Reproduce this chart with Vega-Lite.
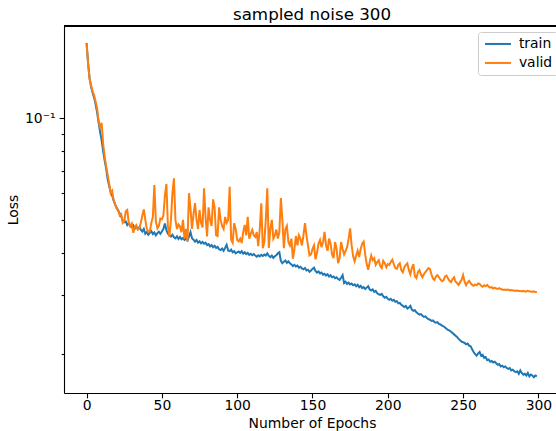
{
  "$schema": "https://vega.github.io/schema/vega-lite/v6.json",
  "autosize": {"type": "none"},
  "padding": {"left": 64, "top": 26, "right": 0, "bottom": 38},
  "width": 492,
  "height": 367,
  "background": "white",
  "config": {
    "font": "DejaVu Sans",
    "view": {"stroke": null},
    "axis": {"grid": false, "domainColor": "#000", "domainWidth": 1.1, "tickColor": "#000", "tickWidth": 1.1, "labelColor": "#000", "titleColor": "#000", "labelFont": "DejaVu Sans", "titleFont": "DejaVu Sans", "labelFontSize": 13.9, "titleFontSize": 13.9, "titleFontWeight": "normal"}
  },
  "title": {"text": "sampled noise 300", "font": "DejaVu Sans", "fontSize": 16.7, "fontWeight": "normal", "color": "#000", "anchor": "middle", "frame": "group", "dx": 2, "dy": 18, "baseline": "alphabetic", "offset": 7},
  "data": {"values": [
{"e":0,"train":0.167,"valid":0.166},{"e":1,"train":0.146,"valid":0.145},{"e":2,"train":0.131,"valid":0.131},{"e":3,"train":0.124,"valid":0.125},{"e":4,"train":0.119,"valid":0.120},{"e":5,"train":0.115,"valid":0.117},{"e":6,"train":0.110,"valid":0.112},{"e":7,"train":0.104,"valid":0.107},{"e":8,"train":0.097,"valid":0.098},{"e":9,"train":0.091,"valid":0.094},
{"e":10,"train":0.086,"valid":0.097},{"e":11,"train":0.080,"valid":0.084},{"e":12,"train":0.075,"valid":0.077},{"e":13,"train":0.071,"valid":0.072},{"e":14,"train":0.066,"valid":0.068},{"e":15,"train":0.063,"valid":0.064},{"e":16,"train":0.0605,"valid":0.060},{"e":17,"train":0.059,"valid":0.061},{"e":18,"train":0.057,"valid":0.057},{"e":19,"train":0.0555,"valid":0.0555},
{"e":20,"train":0.0543,"valid":0.054},{"e":21,"train":0.0532,"valid":0.0535},{"e":22,"train":0.0522,"valid":0.0515},{"e":23,"train":0.0512,"valid":0.052},{"e":24,"train":0.0498,"valid":0.049},{"e":25,"train":0.0492,"valid":0.0495},{"e":26,"train":0.0495,"valid":0.053},{"e":27,"train":0.0483,"valid":0.0535},{"e":28,"train":0.0489,"valid":0.049},{"e":29,"train":0.0479,"valid":0.048},
{"e":30,"train":0.0476,"valid":0.0488},{"e":31,"train":0.0482,"valid":0.0458},{"e":32,"train":0.0471,"valid":0.0475},{"e":33,"train":0.0478,"valid":0.0482},{"e":34,"train":0.0470,"valid":0.0468},{"e":35,"train":0.0476,"valid":0.0472},{"e":36,"train":0.0468,"valid":0.049},{"e":37,"train":0.0462,"valid":0.0515},{"e":38,"train":0.0470,"valid":0.0537},{"e":39,"train":0.0455,"valid":0.050},
{"e":40,"train":0.0460,"valid":0.047},{"e":41,"train":0.0452,"valid":0.0461},{"e":42,"train":0.0458,"valid":0.0462},{"e":43,"train":0.0463,"valid":0.049},{"e":44,"train":0.0454,"valid":0.051},{"e":45,"train":0.0459,"valid":0.0634},{"e":46,"train":0.0450,"valid":0.0495},{"e":47,"train":0.0457,"valid":0.0472},{"e":48,"train":0.0461,"valid":0.048},{"e":49,"train":0.0455,"valid":0.0505},
{"e":50,"train":0.0462,"valid":0.0502},{"e":51,"train":0.0470,"valid":0.0515},{"e":52,"train":0.0488,"valid":0.059},{"e":53,"train":0.0466,"valid":0.0639},{"e":54,"train":0.0455,"valid":0.048},{"e":55,"train":0.0450,"valid":0.0445},{"e":56,"train":0.0446,"valid":0.050},{"e":57,"train":0.0452,"valid":0.060},{"e":58,"train":0.0444,"valid":0.0664},{"e":59,"train":0.0441,"valid":0.050},
{"e":60,"train":0.0447,"valid":0.047},{"e":61,"train":0.0439,"valid":0.0485},{"e":62,"train":0.0445,"valid":0.0478},{"e":63,"train":0.0438,"valid":0.046},{"e":64,"train":0.0442,"valid":0.050},{"e":65,"train":0.0436,"valid":0.044},{"e":66,"train":0.0441,"valid":0.047},{"e":67,"train":0.0435,"valid":0.043},{"e":68,"train":0.0446,"valid":0.060},{"e":69,"train":0.0460,"valid":0.054},
{"e":70,"train":0.0441,"valid":0.047},{"e":71,"train":0.0437,"valid":0.052},{"e":72,"train":0.0431,"valid":0.0561},{"e":73,"train":0.0436,"valid":0.050},{"e":74,"train":0.0428,"valid":0.047},{"e":75,"train":0.0432,"valid":0.0535},{"e":76,"train":0.0426,"valid":0.049},{"e":77,"train":0.0430,"valid":0.0475},{"e":78,"train":0.0425,"valid":0.062},{"e":79,"train":0.0428,"valid":0.051},
{"e":80,"train":0.0421,"valid":0.0447},{"e":81,"train":0.0424,"valid":0.0545},{"e":82,"train":0.0417,"valid":0.050},{"e":83,"train":0.0421,"valid":0.048},{"e":84,"train":0.0415,"valid":0.0575},{"e":85,"train":0.0419,"valid":0.0545},{"e":86,"train":0.0413,"valid":0.045},{"e":87,"train":0.0416,"valid":0.0448},{"e":88,"train":0.0409,"valid":0.0545},{"e":89,"train":0.0407,"valid":0.050},
{"e":90,"train":0.0411,"valid":0.048},{"e":91,"train":0.0405,"valid":0.047},{"e":92,"train":0.0413,"valid":0.051},{"e":93,"train":0.0422,"valid":0.049},{"e":94,"train":0.0406,"valid":0.050},{"e":95,"train":0.0404,"valid":0.0627},{"e":96,"train":0.0408,"valid":0.0437},{"e":97,"train":0.0401,"valid":0.0428},{"e":98,"train":0.0404,"valid":0.0489},{"e":99,"train":0.0398,"valid":0.047},
{"e":100,"train":0.0401,"valid":0.0436},{"e":101,"train":0.0403,"valid":0.0432},{"e":102,"train":0.0399,"valid":0.044},{"e":103,"train":0.0404,"valid":0.0427},{"e":104,"train":0.0397,"valid":0.046},{"e":105,"train":0.0401,"valid":0.0483},{"e":106,"train":0.0396,"valid":0.045},{"e":107,"train":0.0399,"valid":0.0511},{"e":108,"train":0.0394,"valid":0.044},{"e":109,"train":0.0397,"valid":0.0455},
{"e":110,"train":0.0393,"valid":0.0467},{"e":111,"train":0.0396,"valid":0.045},{"e":112,"train":0.0392,"valid":0.0445},{"e":113,"train":0.0389,"valid":0.046},{"e":114,"train":0.0393,"valid":0.0418},{"e":115,"train":0.0390,"valid":0.047},{"e":116,"train":0.0394,"valid":0.056},{"e":117,"train":0.0391,"valid":0.0412},{"e":118,"train":0.0395,"valid":0.043},{"e":119,"train":0.0392,"valid":0.050},
{"e":120,"train":0.0398,"valid":0.062},{"e":121,"train":0.0391,"valid":0.0413},{"e":122,"train":0.0388,"valid":0.047},{"e":123,"train":0.0392,"valid":0.050},{"e":124,"train":0.0386,"valid":0.044},{"e":125,"train":0.0390,"valid":0.045},{"e":126,"train":0.0393,"valid":0.0468},{"e":127,"train":0.0398,"valid":0.044},{"e":128,"train":0.0401,"valid":0.046},{"e":129,"train":0.0378,"valid":0.058},
{"e":130,"train":0.0372,"valid":0.050},{"e":131,"train":0.0376,"valid":0.0412},{"e":132,"train":0.0379,"valid":0.047},{"e":133,"train":0.0373,"valid":0.048},{"e":134,"train":0.0377,"valid":0.043},{"e":135,"train":0.0372,"valid":0.042},{"e":136,"train":0.0369,"valid":0.044},{"e":137,"train":0.0365,"valid":0.0384},{"e":138,"train":0.0368,"valid":0.041},{"e":139,"train":0.0364,"valid":0.0448},
{"e":140,"train":0.0366,"valid":0.042},{"e":141,"train":0.0361,"valid":0.045},{"e":142,"train":0.0363,"valid":0.044},{"e":143,"train":0.0359,"valid":0.042},{"e":144,"train":0.0357,"valid":0.045},{"e":145,"train":0.0360,"valid":0.0489},{"e":146,"train":0.0354,"valid":0.045},{"e":147,"train":0.0356,"valid":0.042},{"e":148,"train":0.0351,"valid":0.0392},{"e":149,"train":0.0354,"valid":0.0395},
{"e":150,"train":0.0358,"valid":0.041},{"e":151,"train":0.0361,"valid":0.042},{"e":152,"train":0.0353,"valid":0.0382},{"e":153,"train":0.0349,"valid":0.040},{"e":154,"train":0.0352,"valid":0.0425},{"e":155,"train":0.0347,"valid":0.0436},{"e":156,"train":0.0349,"valid":0.0415},{"e":157,"train":0.0344,"valid":0.043},{"e":158,"train":0.0346,"valid":0.0461},{"e":159,"train":0.0342,"valid":0.042},
{"e":160,"train":0.0345,"valid":0.0405},{"e":161,"train":0.0340,"valid":0.044},{"e":162,"train":0.0343,"valid":0.0425},{"e":163,"train":0.0338,"valid":0.0395},{"e":164,"train":0.0340,"valid":0.0385},{"e":165,"train":0.0336,"valid":0.043},{"e":166,"train":0.0338,"valid":0.041},{"e":167,"train":0.0334,"valid":0.0372},{"e":168,"train":0.0332,"valid":0.0385},{"e":169,"train":0.0337,"valid":0.043},
{"e":170,"train":0.0343,"valid":0.041},{"e":171,"train":0.0325,"valid":0.0395},{"e":172,"train":0.0328,"valid":0.0405},{"e":173,"train":0.0323,"valid":0.0415},{"e":174,"train":0.0326,"valid":0.044},{"e":175,"train":0.0322,"valid":0.0472},{"e":176,"train":0.0324,"valid":0.042},{"e":177,"train":0.0320,"valid":0.039},{"e":178,"train":0.0322,"valid":0.0377},{"e":179,"train":0.0318,"valid":0.0392},
{"e":180,"train":0.0321,"valid":0.0405},{"e":181,"train":0.0316,"valid":0.0388},{"e":182,"train":0.0319,"valid":0.041},{"e":183,"train":0.0314,"valid":0.0425},{"e":184,"train":0.0316,"valid":0.0431},{"e":185,"train":0.0312,"valid":0.0395},{"e":186,"train":0.0315,"valid":0.037},{"e":187,"train":0.0318,"valid":0.0356},{"e":188,"train":0.0311,"valid":0.0375},{"e":189,"train":0.0309,"valid":0.0392},
{"e":190,"train":0.0311,"valid":0.038},{"e":191,"train":0.0306,"valid":0.0385},{"e":192,"train":0.0308,"valid":0.0368},{"e":193,"train":0.0303,"valid":0.0375},{"e":194,"train":0.0301,"valid":0.038},{"e":195,"train":0.0300,"valid":0.0365},{"e":196,"train":0.0302,"valid":0.036},{"e":197,"train":0.0297,"valid":0.0378},{"e":198,"train":0.0294,"valid":0.0372},{"e":199,"train":0.0296,"valid":0.0362},
{"e":200,"train":0.0292,"valid":0.037},{"e":201,"train":0.0290,"valid":0.0368},{"e":202,"train":0.0292,"valid":0.0375},{"e":203,"train":0.0288,"valid":0.0381},{"e":204,"train":0.0290,"valid":0.037},{"e":205,"train":0.0286,"valid":0.036},{"e":206,"train":0.0287,"valid":0.0358},{"e":207,"train":0.0283,"valid":0.0368},{"e":208,"train":0.0284,"valid":0.0372},{"e":209,"train":0.0280,"valid":0.0355},
{"e":210,"train":0.0278,"valid":0.035},{"e":211,"train":0.0276,"valid":0.0362},{"e":212,"train":0.0278,"valid":0.0368},{"e":213,"train":0.0273,"valid":0.0372},{"e":214,"train":0.0275,"valid":0.0355},{"e":215,"train":0.0278,"valid":0.0345},{"e":216,"train":0.0271,"valid":0.036},{"e":217,"train":0.0269,"valid":0.037},{"e":218,"train":0.0270,"valid":0.034},{"e":219,"train":0.0266,"valid":0.0336},
{"e":220,"train":0.0264,"valid":0.035},{"e":221,"train":0.0262,"valid":0.0355},{"e":222,"train":0.0263,"valid":0.0345},{"e":223,"train":0.0260,"valid":0.0338},{"e":224,"train":0.0258,"valid":0.0345},{"e":225,"train":0.0259,"valid":0.035},{"e":226,"train":0.0256,"valid":0.0355},{"e":227,"train":0.0254,"valid":0.036},{"e":228,"train":0.0253,"valid":0.0358},{"e":229,"train":0.0251,"valid":0.0345},
{"e":230,"train":0.0252,"valid":0.0335},{"e":231,"train":0.0249,"valid":0.0332},{"e":232,"train":0.0248,"valid":0.034},{"e":233,"train":0.0249,"valid":0.0343},{"e":234,"train":0.0246,"valid":0.0338},{"e":235,"train":0.0245,"valid":0.0333},{"e":236,"train":0.0243,"valid":0.0329},{"e":237,"train":0.0242,"valid":0.0331},{"e":238,"train":0.0240,"valid":0.034},{"e":239,"train":0.0238,"valid":0.0342},
{"e":240,"train":0.0236,"valid":0.0335},{"e":241,"train":0.0235,"valid":0.033},{"e":242,"train":0.0233,"valid":0.0327},{"e":243,"train":0.0231,"valid":0.0334},{"e":244,"train":0.0229,"valid":0.0338},{"e":245,"train":0.0227,"valid":0.0328},{"e":246,"train":0.0225,"valid":0.0325},{"e":247,"train":0.0222,"valid":0.0321},{"e":248,"train":0.0220,"valid":0.0327},{"e":249,"train":0.0218,"valid":0.0332},
{"e":250,"train":0.0217,"valid":0.0343},{"e":251,"train":0.0216,"valid":0.0328},{"e":252,"train":0.0214,"valid":0.032},{"e":253,"train":0.0215,"valid":0.0326},{"e":254,"train":0.0212,"valid":0.033},{"e":255,"train":0.0211,"valid":0.0325},{"e":256,"train":0.0207,"valid":0.0321},{"e":257,"train":0.0203,"valid":0.0319},{"e":258,"train":0.0200,"valid":0.0322},{"e":259,"train":0.0198,"valid":0.032},
{"e":260,"train":0.0201,"valid":0.0324},{"e":261,"train":0.0203,"valid":0.0323},{"e":262,"train":0.0198,"valid":0.0319},{"e":263,"train":0.0199,"valid":0.0317},{"e":264,"train":0.0195,"valid":0.032},{"e":265,"train":0.0196,"valid":0.0318},{"e":266,"train":0.0192,"valid":0.0321},{"e":267,"train":0.0193,"valid":0.0317},{"e":268,"train":0.0190,"valid":0.0315},{"e":269,"train":0.0191,"valid":0.0316},
{"e":270,"train":0.0189,"valid":0.0313},{"e":271,"train":0.0190,"valid":0.0315},{"e":272,"train":0.0188,"valid":0.0313},{"e":273,"train":0.0186,"valid":0.0312},{"e":274,"train":0.0187,"valid":0.0314},{"e":275,"train":0.0184,"valid":0.0312},{"e":276,"train":0.0185,"valid":0.0311},{"e":277,"train":0.0183,"valid":0.031},{"e":278,"train":0.0184,"valid":0.0311},{"e":279,"train":0.0182,"valid":0.031},
{"e":280,"train":0.0181,"valid":0.0311},{"e":281,"train":0.0182,"valid":0.0309},{"e":282,"train":0.0179,"valid":0.031},{"e":283,"train":0.0180,"valid":0.0309},{"e":284,"train":0.0178,"valid":0.0309},{"e":285,"train":0.0177,"valid":0.0308},{"e":286,"train":0.0178,"valid":0.0309},{"e":287,"train":0.0175,"valid":0.0308},{"e":288,"train":0.0179,"valid":0.0308},{"e":289,"train":0.0176,"valid":0.0307},
{"e":290,"train":0.0174,"valid":0.0308},{"e":291,"train":0.0175,"valid":0.0307},{"e":292,"train":0.0173,"valid":0.0307},{"e":293,"train":0.0176,"valid":0.0308},{"e":294,"train":0.0172,"valid":0.0307},{"e":295,"train":0.0174,"valid":0.0307},{"e":296,"train":0.0173,"valid":0.0306},{"e":297,"train":0.0171,"valid":0.0307},{"e":298,"train":0.0173,"valid":0.0306},{"e":299,"train":0.0172,"valid":0.0306}
  ]},
  "transform": [{"fold": ["train", "valid"], "as": ["series", "loss"]}],
  "layer": [
    {
      "mark": {"type": "line", "strokeWidth": 2, "clip": true},
      "encoding": {
        "x": {"field": "e", "type": "quantitative", "scale": {"domain": [-15, 311.7], "nice": false, "zero": false},
              "axis": {"title": "Number of Epochs", "values": [0, 50, 100, 150, 200, 250, 300], "format": "d", "tickSize": 4.9, "labelPadding": 1, "titlePadding": 4, "titleX": 248}},
        "y": {"field": "loss", "type": "quantitative", "scale": {"type": "log", "domain": [0.01535, 0.1877], "nice": false},
              "axis": {"title": "Loss", "values": [0.02, 0.03, 0.04, 0.05, 0.06, 0.07, 0.08, 0.09, 0.1], "labelExpr": "datum.value == 0.1 ? '10⁻¹' : ''", "tickSize": {"condition": {"test": "datum.value == 0.1", "value": 4.9}, "value": 2.8}, "labelPadding": 4, "titlePadding": 4}},
        "color": {"field": "series", "type": "nominal", "scale": {"domain": ["train", "valid"], "range": ["#1f77b4", "#ff7f0e"]},
                  "legend": {"title": null, "orient": "none", "legendX": 414, "legendY": 6, "symbolType": "M-2.6,0H2.6", "symbolSize": 100, "symbolStrokeWidth": 2, "symbolOffset": 8, "labelOffset": 14, "labelFontSize": 13.9, "labelFont": "DejaVu Sans", "labelColor": "#000", "rowPadding": 4, "padding": 5, "strokeColor": "#cccccc", "fillColor": "rgba(255,255,255,0.8)", "cornerRadius": 3}}
      }
    },
    {
      "mark": {"type": "rule", "color": "#000", "strokeWidth": 1.1},
      "encoding": {"y": {"datum": 0.1877}}
    }
  ]
}
